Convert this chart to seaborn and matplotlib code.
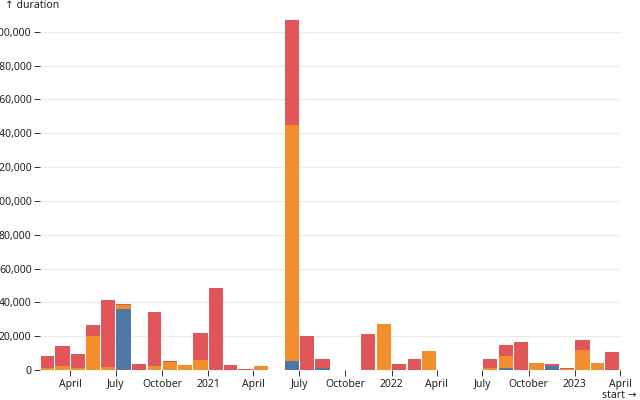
import numpy as np
import pandas as pd
import matplotlib
matplotlib.use("Agg")
import matplotlib.pyplot as plt
import matplotlib.dates as mdates
import matplotlib.ticker as mticker
import seaborn as sns

# monthly durations (thousands), Feb 2020 .. Mar 2023, split by type
months = pd.date_range("2020-02-01", "2023-03-01", freq="MS")
blue = [0, 0, 0, 0, 0, 36.3, 0, 0, 0, 0, 0, 0,
        0, 0, 0, 0, 5.3, 0, 1.0, 0, 0, 0, 0, 0,
        0, 0, 0, 0, 0, 0, 1.0, 0, 0, 2.2, 0, 0, 0, 0]
orange = [1.2, 2.2, 1.2, 20.0, 1.8, 2.2, 0, 2.2, 5.0, 2.8, 5.9, 0,
          0, 0.2, 2.2, 0, 139.7, 0, 0, 0, 0, 0, 27.2, 0,
          0, 11.2, 0, 0, 0, 1.0, 7.1, 0, 4.1, 0, 0.5, 12.0, 4.0, 0]
red = [6.9, 12.0, 8.3, 6.6, 39.4, 0.3, 3.4, 32.3, 0.4, 0, 16.0, 48.3,
       3.0, 0.4, 0, 0.15, 62.0, 20.0, 5.7, 0, 0, 21.0, 0, 3.7,
       6.5, 0, 0, 0, 0, 5.7, 6.5, 16.6, 0, 1.5, 0.5, 5.6, 0, 10.8]
types = ["a", "b", "c"]
colors = {"a": "#4e79a7", "b": "#f28e2c", "c": "#e15759"}

rows = []
for t, vals in zip(types, [blue, orange, red]):
    for m, v in zip(months, vals):
        rows.append({"start": mdates.date2num(m + pd.Timedelta(days=14)),
                     "duration": v * 1000, "type": t})
df = pd.DataFrame(rows)

edges = list(mdates.date2num(pd.date_range("2020-02-01", "2023-04-01", freq="MS")))
totals = df.groupby("start")["duration"].sum()

sns.set_style("white")
plt.rcParams["font.family"] = ["Noto Sans", "DejaVu Sans"]
plt.rcParams["font.size"] = 7.5

fig = plt.figure(figsize=(6.4, 4), dpi=100)
ax = fig.add_axes([40 / 640, 30 / 400, 580 / 640, 350 / 400])

# blue at the bottom, red on top (seaborn stacks first hue level on top)
sns.histplot(data=df, x="start", weights="duration", hue="type",
             hue_order=types[::-1], palette=colors, bins=edges,
             multiple="stack", shrink=0.92, alpha=1, linewidth=0,
             legend=False, ax=ax)

ax.set_xlim(edges[0], edges[-1])
ax.set_ylim(0, totals.max())
ax.yaxis.set_major_locator(mticker.MultipleLocator(20000))
ax.yaxis.set_major_formatter(mticker.FuncFormatter(lambda v, p: f"{v:,.0f}"))
ax.xaxis.set_major_locator(mdates.MonthLocator(bymonth=[1, 4, 7, 10]))
ax.xaxis.set_major_formatter(mticker.FuncFormatter(
    lambda v, p: mdates.num2date(v).strftime("%Y" if mdates.num2date(v).month == 1 else "%B")))

ax.grid(axis="y", color="#ebebeb", linewidth=0.8)
ax.set_axisbelow(True)
for s in ax.spines.values():
    s.set_visible(False)
ax.tick_params(axis="y", left=True, length=4, width=0.7, color="#333", pad=2, labelcolor="#222")
ax.tick_params(axis="x", bottom=True, length=4.5, width=0.7, color="#333", pad=2, labelcolor="#222")
ax.set_xlabel("")
ax.set_ylabel("")

fig.text(5 / 640, 1 - 6 / 400, "↑ duration", ha="left", va="center", fontsize=7.5, color="#222")
fig.text(637 / 640, 1 - 395 / 400, "start →", ha="right", va="center", fontsize=7.5, color="#222")

fig.savefig("out.png", dpi=100)
